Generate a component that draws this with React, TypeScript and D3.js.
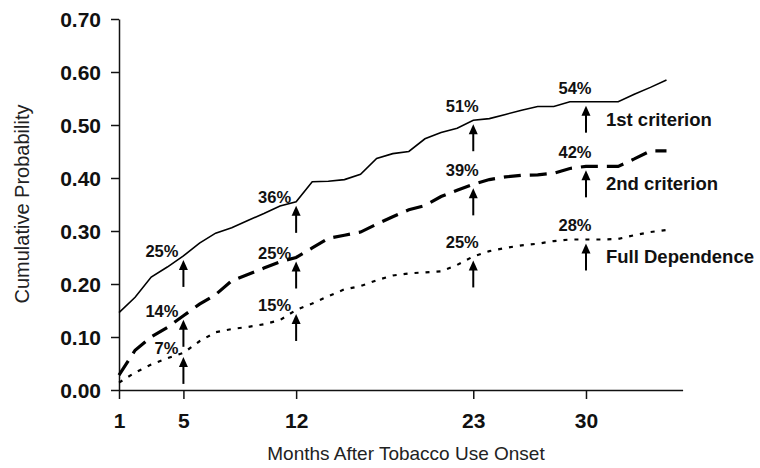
import { useEffect, useRef } from 'react';
import * as d3 from 'd3';

// months 1..35
const months = d3.range(1, 36);

const firstCriterion = [
  0.146, 0.175, 0.213, 0.232, 0.253, 0.277, 0.296, 0.306, 0.320, 0.333,
  0.347, 0.355, 0.393, 0.394, 0.397, 0.407, 0.437, 0.446, 0.450, 0.474,
  0.486, 0.494, 0.509, 0.512, 0.520, 0.528, 0.535, 0.535, 0.544, 0.544,
  0.544, 0.544, 0.558, 0.571, 0.585,
];

const secondCriterion = [
  0.028, 0.075, 0.100, 0.118, 0.140, 0.162, 0.180, 0.206, 0.218, 0.230,
  0.242, 0.250, 0.268, 0.286, 0.292, 0.298, 0.313, 0.327, 0.340, 0.348,
  0.365, 0.377, 0.388, 0.397, 0.402, 0.405, 0.406, 0.409, 0.418, 0.422,
  0.422, 0.422, 0.436, 0.451, 0.451,
];

const fullDependence = [
  0.014, 0.033, 0.048, 0.060, 0.070, 0.092, 0.109, 0.115, 0.119, 0.124,
  0.132, 0.151, 0.163, 0.177, 0.190, 0.196, 0.207, 0.216, 0.220, 0.222,
  0.224, 0.236, 0.252, 0.262, 0.268, 0.273, 0.276, 0.281, 0.284, 0.284,
  0.284, 0.285, 0.292, 0.298, 0.302,
];

const seriesNames = ['1st criterion', '2nd criterion', 'Full Dependence'];
const annotMonths = [5, 12, 23, 30];
const annotLabels = [
  ['25%', '36%', '51%', '54%'],
  ['14%', '25%', '39%', '42%'],
  ['7%', '15%', '25%', '28%'],
];
const xTicks = [1, 5, 12, 23, 30];
const yTicks = [0, 0.1, 0.2, 0.3, 0.4, 0.5, 0.6, 0.7];

const FONT = "'Liberation Sans', Arial, Helvetica, sans-serif";

function App() {
  const ref = useRef<SVGSVGElement>(null);

  useEffect(() => {
    const svg = d3.select(ref.current);
    svg.selectAll('*').remove();

    const x = d3.scaleLinear().domain([1, 36]).range([119, 682.6]);
    const y = d3.scaleLinear().domain([0, 0.7]).range([390, 19]);

    // axes
    const xAxis = svg.append('g')
      .attr('transform', `translate(0,${y(0)})`)
      .call(d3.axisBottom(x).tickValues(xTicks).tickSize(9).tickSizeOuter(0).tickFormat(d3.format('d')));
    xAxis.selectAll('text')
      .attr('dy', null)
      .attr('y', 38)
      .style('font-size', '21px')
      .style('font-weight', 'bold');

    const yAxis = svg.append('g')
      .attr('transform', `translate(${x(1)},0)`)
      .call(d3.axisLeft(y).tickValues(yTicks).tickSize(8).tickSizeOuter(0).tickFormat(d3.format('.2f')));
    yAxis.selectAll('text')
      .attr('x', -18)
      .attr('dy', '0.36em')
      .style('font-size', '21px')
      .style('font-weight', 'bold');

    svg.selectAll('.domain, .tick line')
      .attr('stroke', '#111')
      .attr('stroke-width', 1.5);
    svg.selectAll('.tick text').attr('fill', '#111').style('font-family', FONT);

    // axis titles
    svg.append('text')
      .attr('x', 406)
      .attr('y', 460)
      .attr('text-anchor', 'middle')
      .style('font-family', FONT)
      .style('font-size', '19px')
      .attr('fill', '#222')
      .text('Months After Tobacco Use Onset');

    svg.append('text')
      .attr('transform', `translate(29,204) rotate(-90)`)
      .attr('text-anchor', 'middle')
      .style('font-family', FONT)
      .style('font-size', '20px')
      .attr('fill', '#222')
      .text('Cumulative Probability');

    // lines
    const allSeries = [firstCriterion, secondCriterion, fullDependence];
    const styles = [
      { w: 1.6, dash: null },
      { w: 3.2, dash: '17,9' },
      { w: 2.2, dash: '4,7' },
    ];
    const line = d3.line<number>()
      .x((d, i) => x(months[i]))
      .y((d) => y(d));

    allSeries.forEach((s, k) => {
      svg.append('path')
        .datum(s)
        .attr('fill', 'none')
        .attr('stroke', '#000')
        .attr('stroke-width', styles[k].w)
        .attr('stroke-dasharray', styles[k].dash)
        .attr('d', line);
    });

    // arrows + percent labels
    allSeries.forEach((s, k) => {
      annotMonths.forEach((m, j) => {
        const ax = x(m);
        const tip = y(s[m - 1]) + 4;
        const tail = tip + 27;
        svg.append('line')
          .attr('x1', ax).attr('x2', ax)
          .attr('y1', tip + 8).attr('y2', tail)
          .attr('stroke', '#000')
          .attr('stroke-width', 2);
        svg.append('path')
          .attr('d', `M${ax},${tip} L${ax - 4.5},${tip + 10} L${ax + 4.5},${tip + 10} Z`)
          .attr('fill', '#000');

        const early = m <= 12;
        svg.append('text')
          .attr('x', early ? ax - 5 : ax - 11)
          .attr('y', early ? tip - 3 : tip - 12)
          .attr('text-anchor', early ? 'end' : 'middle')
          .style('font-family', FONT)
          .style('font-size', '16.5px')
          .style('font-weight', 'bold')
          .attr('fill', '#111')
          .text(annotLabels[k][j]);
      });

      // series label
      const lx = x(30) + 20;
      const ly = y(s[29]) + 24;
      svg.append('text')
        .attr('x', lx)
        .attr('y', ly)
        .style('font-family', FONT)
        .style('font-size', '18.5px')
        .style('font-weight', 'bold')
        .attr('fill', '#111')
        .text(seriesNames[k]);
    });
  }, []);

  return (
    <svg
      ref={ref}
      width={760}
      height={468}
      style={{ position: 'absolute', left: 0, top: 0, background: '#fff' }}
    />
  );
}

export default App;
